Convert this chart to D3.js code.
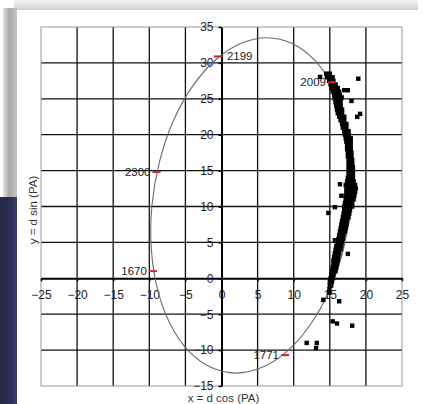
<!DOCTYPE html>
<html>
<head>
<meta charset="utf-8">
<script src="https://cdn.jsdelivr.net/npm/d3@7"></script>
<style>
  body { margin: 0; background: #fff; }
  svg { display: block; font-family: "Liberation Sans", Arial, sans-serif; }
</style>
</head>
<body>
<div id="chart"></div>
<script>
// axis ticks
const xTicks = [-25, -20, -15, -10, -5, 0, 5, 10, 15, 20, 25];
const yTicks = [-15, -10, -5, 0, 5, 10, 15, 20, 25, 30, 35];

// orbit curve (clockwise from the top)
const orbitX = [6.30, 9.79, 12.90, 15.41, 17.16, 18.02, 17.93, 16.90, 15.01, 12.37, 9.18, 5.64,
  2.00, -1.49, -4.60, -7.11, -8.86, -9.72, -9.63, -8.60, -6.71, -4.07, -0.88, 2.66];
const orbitY = [33.50, 32.70, 30.37, 26.66, 21.83, 16.19, 10.15, 4.11, -1.53, -6.36, -10.07, -12.40,
  -13.20, -12.40, -10.07, -6.36, -1.53, 4.11, 10.15, 16.19, 21.83, 26.66, 30.37, 32.70];

// labelled epochs on the orbit
const epochs = ['2199', '2009', '2300', '1670', '1771'];
const epochX = [-0.5, 15.3, -9.0, -9.5, 8.8];
const epochY = [30.9, 27.3, 14.8, 1.0, -10.7];
const epochSide = ['right', 'left', 'left', 'left', 'left'];

// observed positions: the dense band (y level -> x values)
const bandY = [28.5, 28, 27.5, 27, 26.5, 26, 25.5, 25, 24.5, 24, 23.5, 23, 22.5, 22, 21.5, 21,
  20.5, 20, 19.5, 19, 18.5, 18, 17.5, 17, 16.5, 16, 15.5, 15, 14.5, 14, 13.5, 13, 12.5, 12,
  11.5, 11, 10.5, 10, 9.5, 9, 8.5, 8, 7.5, 7, 6.5, 6, 5.5, 5, 4.5, 4, 3.5, 3, 2.5, 2, 1.5, 1,
  0.5, 0, -0.5, -1, -1.5, -2];
const bandX = [
  [14.5, 15.0], [14.6, 15.1, 15.4], [14.9, 15.5], [15.1, 15.5, 15.8], [15.2, 15.7, 16.1],
  [15.4, 15.9, 16.3], [15.6, 16.0, 16.4], [15.7, 16.1, 16.5], [15.8, 16.2, 16.5], [15.9, 16.3, 16.5],
  [16.0, 16.4, 16.7], [16.1, 16.5, 16.7], [16.3, 16.7, 17.0], [16.5, 16.8, 17.0], [16.7, 17.0, 17.3],
  [16.8, 17.1, 17.3], [17.0, 17.3, 17.6], [17.1, 17.4, 17.6], [17.2, 17.5, 17.9], [17.3, 17.6, 17.9],
  [17.4, 17.7, 17.9], [17.4, 17.7, 17.9], [17.5, 17.8, 18.0], [17.5, 17.8, 18.0], [17.6, 17.9, 18.1],
  [17.6, 17.9, 18.1], [17.6, 17.9, 18.2], [17.6, 18.0, 18.2], [17.6, 17.9, 18.2], [17.5, 17.9, 18.2],
  [17.4, 17.8, 18.3], [17.2, 17.7, 18.1, 18.5], [17.3, 17.8, 18.2, 18.6], [17.3, 17.7, 18.1, 18.5],
  [17.2, 17.6, 18.0, 18.4], [17.2, 17.6, 18.0, 18.3], [17.1, 17.5, 17.9, 18.1], [17.0, 17.4, 17.8, 18.1],
  [17.0, 17.4, 17.8], [16.9, 17.3, 17.7], [16.8, 17.2, 17.6], [16.7, 17.1, 17.4], [16.6, 17.0, 17.3],
  [16.5, 16.9, 17.2], [16.4, 16.8, 17.1], [16.3, 16.7, 16.9], [16.2, 16.6, 16.8], [16.0, 16.4, 16.7],
  [15.9, 16.3, 16.6], [15.8, 16.2, 16.5], [15.7, 16.1, 16.3], [15.6, 16.0, 16.2], [15.5, 15.9, 16.1],
  [15.5, 15.8, 16.0], [15.4, 15.7, 15.9], [15.3, 15.6, 15.8], [15.2, 15.5], [15.1, 15.4],
  [15.0, 15.3], [15.0, 15.2], [14.95], [14.9]
];
// observed positions: scattered points
const outX = [13.65, 18.95, 17.0, 17.5, 18.0, 16.65, 19.2, 18.8, 16.4, 16.6, 14.8, 15.7, 15.7, 17.5,
  14.1, 16.3, 15.4, 16.0, 18.1, 11.8, 13.2, 13.1];
const outY = [28.05, 27.8, 26.2, 26.2, 24.7, 25.2, 22.9, 22.5, 13.1, 11.5, 9.1, 9.9, 5.3, 3.4,
  -3.0, -3.2, -6.0, -6.3, -6.6, -9.0, -9.0, -9.7];

const width = 423, height = 404;
const x = d3.scaleLinear().domain([-25, 25]).range([41, 402]);
const y = d3.scaleLinear().domain([-15, 35]).range([386, 27]);

const svg = d3.select('#chart').append('svg')
  .attr('width', width)
  .attr('height', height);

// background panel, shadows
const defs = svg.append('defs');
const topShade = defs.append('linearGradient').attr('id', 'topShade')
  .attr('x1', 0).attr('y1', 0).attr('x2', 0).attr('y2', 1);
topShade.append('stop').attr('offset', '0%').attr('stop-color', '#f4f4f4');
topShade.append('stop').attr('offset', '100%').attr('stop-color', '#cfcfcf');
const leftShade = defs.append('linearGradient').attr('id', 'leftShade');
leftShade.append('stop').attr('offset', '0%').attr('stop-color', '#e2e2e2');
leftShade.append('stop').attr('offset', '45%').attr('stop-color', '#a8a8a8');
leftShade.append('stop').attr('offset', '100%').attr('stop-color', '#c4c4c4');
const navy = defs.append('linearGradient').attr('id', 'navy');
navy.append('stop').attr('offset', '0%').attr('stop-color', '#262846');
navy.append('stop').attr('offset', '70%').attr('stop-color', '#2d2f55');
navy.append('stop').attr('offset', '100%').attr('stop-color', '#3c3e66');

svg.append('rect').attr('x', 14).attr('y', 0).attr('width', 404).attr('height', 10)
  .attr('fill', 'url(#topShade)');
svg.append('rect').attr('x', 3).attr('y', 8).attr('width', 14).attr('height', 190)
  .attr('fill', 'url(#leftShade)');
svg.append('rect').attr('x', 0).attr('y', 197).attr('width', 17).attr('height', 207)
  .attr('fill', 'url(#navy)');
svg.append('rect').attr('x', 17).attr('y', 10).attr('width', 406).attr('height', 394)
  .attr('fill', '#fff');

// grid
const grid = svg.append('g');
grid.selectAll('line.v')
  .data(xTicks.filter(d => d !== 0 && Math.abs(d) !== 25))
  .enter().append('line')
  .attr('x1', d => x(d)).attr('x2', d => x(d))
  .attr('y1', y(35)).attr('y2', y(-15))
  .attr('stroke', '#111').attr('stroke-width', 1.3);
grid.selectAll('line.h')
  .data(yTicks.filter(d => d !== 0 && d !== 35 && d !== -15))
  .enter().append('line')
  .attr('x1', x(-25)).attr('x2', x(25))
  .attr('y1', d => y(d)).attr('y2', d => y(d))
  .attr('stroke', '#111').attr('stroke-width', 1.3);
grid.append('rect')
  .attr('x', x(-25)).attr('y', y(35))
  .attr('width', x(25) - x(-25)).attr('height', y(-15) - y(35))
  .attr('fill', 'none').attr('stroke', '#9a9a9a').attr('stroke-width', 1);

// axes through the origin
const xAxis = svg.append('g')
  .attr('transform', `translate(0,${y(0)})`)
  .call(d3.axisBottom(x).tickValues(xTicks).tickSize(3).tickSizeOuter(0).tickPadding(9));
const yAxis = svg.append('g')
  .attr('transform', `translate(${x(0)},0)`)
  .call(d3.axisLeft(y).tickValues(yTicks).tickSize(3).tickSizeOuter(0).tickPadding(5));
[xAxis, yAxis].forEach(a => {
  a.select('.domain').attr('stroke', '#000').attr('stroke-width', 2);
  a.selectAll('.tick line').attr('stroke', '#000').attr('stroke-width', 1.5);
  a.selectAll('.tick text')
    .attr('fill', '#222')
    .style('font-size', '12px')
    .style('font-family', '"Liberation Sans", Arial, sans-serif');
});

// orbit
const orbitPts = orbitX.map((d, i) => [d, orbitY[i]]);
svg.append('path')
  .datum(orbitPts)
  .attr('d', d3.line().x(d => x(d[0])).y(d => y(d[1])).curve(d3.curveCatmullRomClosed))
  .attr('fill', 'none')
  .attr('stroke', '#6a6a6a')
  .attr('stroke-width', 1.1);

// observations
const obs = [];
bandY.forEach((yy, i) => bandX[i].forEach(xx => obs.push([xx, yy])));
outX.forEach((xx, i) => obs.push([xx, outY[i]]));
svg.append('g').selectAll('rect')
  .data(obs)
  .enter().append('rect')
  .attr('x', d => x(d[0]) - 2.2)
  .attr('y', d => y(d[1]) - 2.2)
  .attr('width', 4.4).attr('height', 4.4)
  .attr('fill', '#000');

// epoch markers and labels
const ep = svg.append('g').selectAll('g')
  .data(epochs.map((d, i) => ({ name: d, x: epochX[i], y: epochY[i], side: epochSide[i] })))
  .enter().append('g');
ep.append('line')
  .attr('x1', d => x(d.x) - 4).attr('x2', d => x(d.x) + 4)
  .attr('y1', d => y(d.y)).attr('y2', d => y(d.y))
  .attr('stroke', '#e02020').attr('stroke-width', 2);
ep.append('text')
  .attr('x', d => d.side === 'right' ? x(d.x) + 9 : x(d.x) - 6)
  .attr('y', d => y(d.y))
  .attr('dy', '0.35em')
  .attr('text-anchor', d => d.side === 'right' ? 'start' : 'end')
  .attr('fill', '#222')
  .style('font-size', '11.5px')
  .text(d => d.name);

// axis titles
svg.append('text')
  .attr('x', x(0) + 2).attr('y', 398)
  .attr('dy', '0.35em')
  .attr('text-anchor', 'middle')
  .attr('fill', '#333')
  .style('font-size', '11.5px')
  .text('x = d cos (PA)');
svg.append('text')
  .attr('transform', 'translate(33,210) rotate(-90)')
  .attr('dy', '0.35em')
  .attr('text-anchor', 'middle')
  .attr('fill', '#333')
  .style('font-size', '11.5px')
  .text('y = d sin (PA)');
</script>
</body>
</html>
